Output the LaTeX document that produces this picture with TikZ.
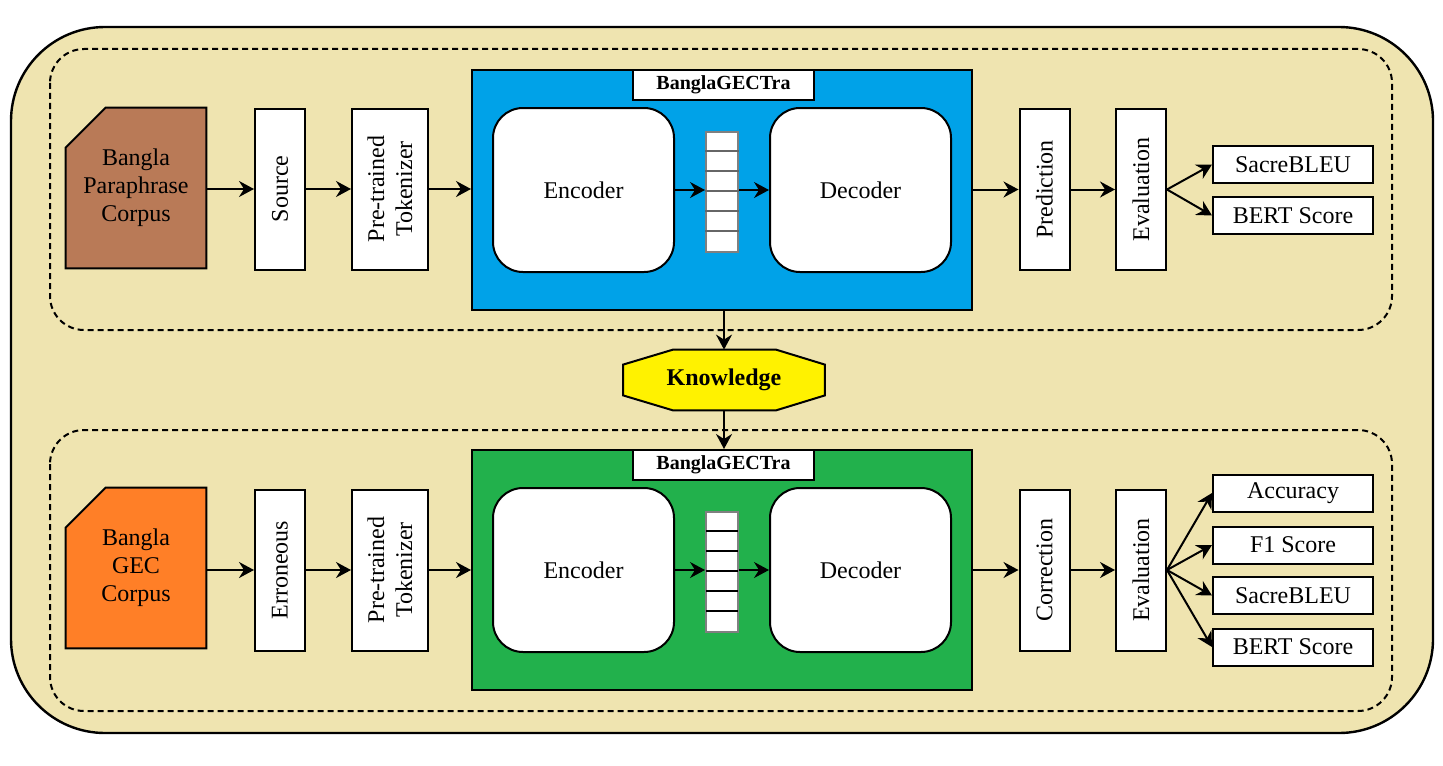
\documentclass[tikz,border=0pt]{standalone}
\usepackage{fontspec}
\setmainfont{Liberation Serif}
\usetikzlibrary{arrows.meta,calc}
\definecolor{bgtan}{HTML}{EFE4B0}
\definecolor{gblue}{HTML}{00A2E8}
\definecolor{ggreen}{HTML}{22B14C}
\definecolor{gyellow}{HTML}{FFF200}
\definecolor{gorange}{HTML}{FF7F27}
\definecolor{gbrown}{HTML}{B97A57}
\begin{document}
\begin{tikzpicture}[x=0.5pt,y=-0.5pt,
  txt/.style={font=\fontsize{12pt}{14pt}\selectfont},
  box/.style={draw, fill=white, line width=1pt, inner sep=0pt, txt},
  vbox/.style={box, minimum width=25pt, minimum height=80.5pt},
  tbox/.style={box, minimum width=38pt, minimum height=80.5pt},
  mbox/.style={box, minimum width=80pt, minimum height=18.5pt},
  rbox/.style={box, rounded corners=15pt, minimum width=90.5pt, minimum height=82pt},
  frame/.style={draw, line width=1pt, inner sep=0pt, minimum width=250pt, minimum height=120pt},
  lbl/.style={draw, fill=white, line width=1pt, inner sep=0pt, minimum width=90.5pt, minimum height=15pt, font=\fontsize{10pt}{12pt}\selectfont\bfseries},
  ghost/.style={inner sep=0pt},
  vtxt/.style={rotate=90, align=center, txt},
  arr/.style={line width=1pt, -{Stealth[length=7.5pt,width=8pt,inset=2.5pt]}},
  thinarr/.style={line width=0.6pt, -{Stealth[length=7.5pt,width=8pt,inset=2.5pt]}},
  cell/.style={draw=gray, line width=1pt, fill=white, inner sep=0pt, minimum width=16pt, minimum height=60pt}
]
\useasboundingbox (0,0) rectangle (1443,765);
% outer frame
\draw[fill=bgtan, line width=1.2pt, rounded corners=47pt] (11,27) rectangle (1433,733);
\draw[dashed, dash pattern=on 3pt off 2pt, line width=1pt, rounded corners=17pt] (50,49) rectangle (1392,330);
\draw[dashed, dash pattern=on 3pt off 2pt, line width=1pt, rounded corners=17pt] (50,430) rectangle (1392,711);

% ===== top row =====
\node[ghost, minimum width=70pt, minimum height=80pt] (corpA) at (136,188) {};
\draw[fill=gbrown, line width=1pt] (corpA.south west) -- ($(corpA.north west)+(0,40)$) -- ($(corpA.north west)+(40,0)$) -- (corpA.north east) -- (corpA.south east) -- cycle;
\node[align=center, txt] (corpAt) at (corpA) {Bangla\\Paraphrase\\Corpus};

\node[vbox] (srcA) at (280,189) {};
\node[vtxt] (srcAt) at (srcA) {Source};
\node[tbox] (tokA) at (390,189) {};
\node[vtxt] (tokAt) at (tokA) {Pre-trained\\Tokenizer};

\node[frame, fill=gblue] (blueA) at (722,190) {};
\node[lbl] (labA) at (723.5,85) {BanglaGECTra};
\node[rbox] (encA) at (583.5,190) {Encoder};
\node[rbox] (decA) at (860.5,190) {Decoder};
\node[cell] (vecA) at (722,192) {};
\foreach \i in {1,...,5} \draw[gray!80!black, line width=0.8pt] ($(vecA.north west)+(0,20*\i)$) -- ($(vecA.north east)+(0,20*\i)$);

\node[vbox] (predA) at (1044.5,189.5) {};
\node[vtxt] (predAt) at (predA) {Prediction};
\node[vbox] (evalA) at (1141,189.5) {};
\node[vtxt] (evalAt) at (evalA) {Evaluation};
\node[mbox] (sbA) at (1293,164.5) {SacreBLEU};
\node[mbox] (bsA) at (1293,215.5) {BERT Score};

\draw[arr] (corpA.east |- srcA.west) -- (srcA.west);
\draw[arr] (srcA.east) -- (tokA.west);
\draw[arr] (tokA.east) -- (tokA.east -| blueA.west);
\draw[thinarr] (encA.east) -- (encA.east -| vecA.west);
\draw[thinarr] (vecA.east |- decA.west) -- (decA.west);
\draw[arr] (predA.west -| blueA.east) -- (predA.west);
\draw[arr] (predA.east) -- (evalA.west);
\draw[arr] (evalA.east) -- (sbA.west);
\draw[arr] (evalA.east) -- (bsA.west);

% ===== knowledge =====
\node[ghost, minimum width=100.5pt, minimum height=30pt] (knA) at (724,380) {};
\draw[fill=gyellow, line width=1pt]
  ($(knA.north west)+(50,0)$) -- ($(knA.north east)+(-49,0)$) -- ($(knA.north east)+(0,15)$) -- ($(knA.south east)+(0,-15)$) -- ($(knA.south east)+(-49,0)$) -- ($(knA.south west)+(50,0)$) -- ($(knA.south west)+(0,-15)$) -- ($(knA.north west)+(0,15)$) -- cycle;
\node[font=\fontsize{12pt}{14pt}\selectfont\bfseries] (knAt) at (knA) {Knowledge};

% ===== bottom row =====
\node[ghost, minimum width=70pt, minimum height=80pt] (corpB) at (136,568) {};
\draw[fill=gorange, line width=1pt] (corpB.south west) -- ($(corpB.north west)+(0,40)$) -- ($(corpB.north west)+(40,0)$) -- (corpB.north east) -- (corpB.south east) -- cycle;
\node[align=center, txt] (corpBt) at (corpB) {Bangla\\GEC\\Corpus};

\node[vbox] (srcB) at (280,570) {};
\node[vtxt] (srcBt) at (srcB) {Erroneous};
\node[tbox] (tokB) at (390,570) {};
\node[vtxt] (tokBt) at (tokB) {Pre-trained\\Tokenizer};

\node[frame, fill=ggreen] (greenB) at (722,570) {};
\node[lbl] (labB) at (723.5,465) {BanglaGECTra};
\node[rbox] (encB) at (583.5,570) {Encoder};
\node[rbox] (decB) at (860.5,570) {Decoder};
\node[cell] (vecB) at (722,572) {};
\foreach \i in {1,...,5} \draw[black, line width=0.8pt] ($(vecB.north west)+(1,20*\i)$) -- ($(vecB.north east)+(-1,20*\i)$);

\node[vbox] (corrB) at (1044.5,570) {};
\node[vtxt] (corrBt) at (corrB) {Correction};
\node[vbox] (evalB) at (1141,570) {};
\node[vtxt] (evalBt) at (evalB) {Evaluation};
\node[mbox] (accB) at (1293,493) {Accuracy};
\node[mbox] (f1B) at (1293,545) {F1 Score};
\node[mbox] (sbB) at (1293,595.5) {SacreBLEU};
\node[mbox] (bsB) at (1293,647) {BERT Score};

\draw[arr] (corpB.east |- srcB.west) -- (srcB.west);
\draw[arr] (srcB.east) -- (tokB.west);
\draw[arr] (tokB.east) -- (tokB.east -| greenB.west);
\draw[thinarr] (encB.east) -- (encB.east -| vecB.west);
\draw[thinarr] (vecB.east |- decB.west) -- (decB.west);
\draw[arr] (corrB.west -| greenB.east) -- (corrB.west);
\draw[arr] (corrB.east) -- (evalB.west);
\draw[arr] (evalB.east) -- (accB.west);
\draw[arr] (evalB.east) -- (f1B.west);
\draw[arr] (evalB.east) -- (sbB.west);
\draw[arr] (evalB.east) -- (bsB.west);

% knowledge links
\draw[arr] (knA.north |- blueA.south) -- (knA.north);
\draw[arr] (knA.south) -- (knA.south |- greenB.north);
\end{tikzpicture}
\end{document}
